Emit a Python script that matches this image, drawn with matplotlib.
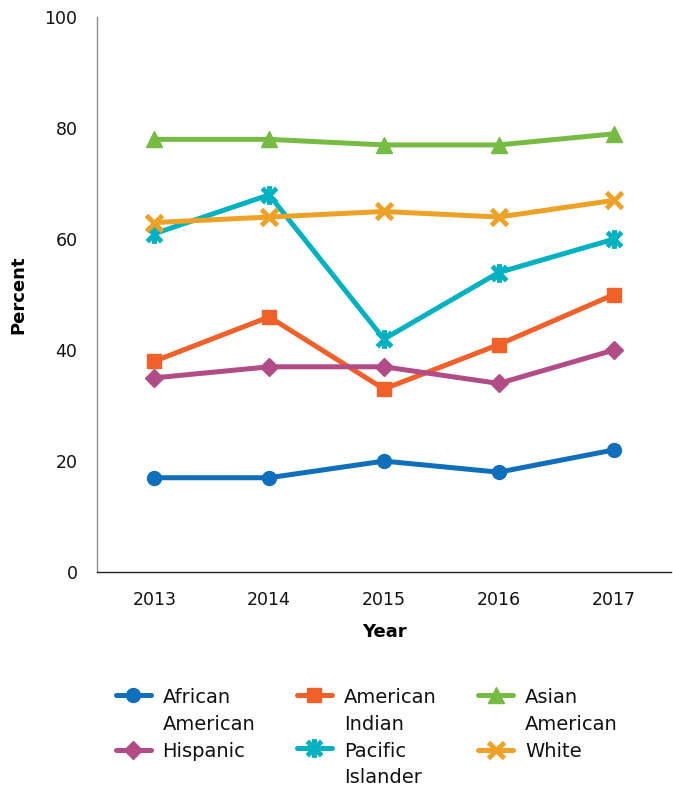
import matplotlib.pyplot as plt
from matplotlib.path import Path
from matplotlib.transforms import Affine2D
from matplotlib.legend_handler import HandlerLine2D

years = ["2013", "2014", "2015", "2016", "2017"]
african_american = [17, 17, 20, 18, 22]
american_indian = [38, 46, 33, 41, 50]
asian_american = [78, 78, 77, 77, 79]
hispanic = [35, 37, 37, 34, 40]
pacific_islander = [61, 68, 42, 54, 60]
white = [63, 64, 65, 64, 67]

plt.rcParams["font.family"] = ["DejaVu Sans"]

# asterisk marker: x with a vertical bar (Excel "star")
star = Path(
    [(-1, -1), (1, 1), (-1, 1), (1, -1), (0, -1.3), (0, 1.3)],
    [Path.MOVETO, Path.LINETO, Path.MOVETO, Path.LINETO, Path.MOVETO, Path.LINETO],
)

series = [
    ("African\nAmerican", african_american, "#0F6FBA", "o", 10, 1),
    ("American\nIndian", american_indian, "#F0612A", "s", 10, 1),
    ("Asian\nAmerican", asian_american, "#76BC43", "^", 11, 1),
    ("Hispanic", hispanic, "#B24C87", "D", 9, 1),
    ("Pacific\nIslander", pacific_islander, "#00B2C1", star, 13.5, 3.6),
    ("White", white, "#EEA127", "x", 11, 3.5),
]


class TopHandler(HandlerLine2D):
    """Put the legend handle level with the first line of a two-line label."""
    def __init__(self, shift, **kw):
        super().__init__(**kw)
        self.shift = shift

    def create_artists(self, legend, orig_handle, xdescent, ydescent,
                       width, height, fontsize, trans):
        arts = super().create_artists(legend, orig_handle, xdescent, ydescent,
                                      width, height, fontsize, trans)
        t = Affine2D().translate(0, self.shift) + trans
        for a in arts:
            a.set_transform(t)
        return arts


fig = plt.figure(figsize=(6.73, 7.89), dpi=100)
ax = fig.add_axes([0.144, 0.275, 0.853, 0.703])

x = range(len(years))
lines = {}
for label, vals, col, mk, ms, mew in series:
    ln, = ax.plot(x, vals, color=col, lw=3.6, marker=mk, ms=ms, mew=mew,
                  mec=col, mfc=col, label=label, solid_capstyle="round")
    lines[label] = ln

ax.set_xlim(-0.5, 4.5)
ax.set_ylim(0, 100)
ax.set_yticks([0, 20, 40, 60, 80, 100])
ax.set_xticks(list(x))
ax.set_xticklabels(years)
ax.tick_params(length=0, labelsize=12.5, colors="#111")
ax.tick_params(axis="x", pad=14)
ax.tick_params(axis="y", pad=14)
ax.spines[["top", "right"]].set_visible(False)
ax.spines["left"].set_color("#8c8c8c")
ax.spines["bottom"].set_color("#222222")
ax.spines["left"].set_linewidth(1)
ax.spines["bottom"].set_linewidth(1)

ax.set_ylabel("Percent", fontsize=13, fontweight="bold", labelpad=12)
ax.set_xlabel("Year", fontsize=13, fontweight="bold", labelpad=10)

# column-major fill so rows read: African, Am. Indian, Asian / Hispanic, Pacific, White
order = ["African\nAmerican", "Hispanic", "American\nIndian",
         "Pacific\nIslander", "Asian\nAmerican", "White"]
handles = [lines[k] for k in order]
hmap = {lines[k]: TopHandler(12) for k in order if "\n" in k}
leg = fig.legend(handles, order, loc="upper left", bbox_to_anchor=(0.172, 0.128),
                 ncol=3, frameon=False, fontsize=14, handlelength=1.8,
                 columnspacing=2.15, handletextpad=0.6, labelspacing=0.42,
                 handler_map=hmap, borderpad=0, borderaxespad=0)
for t in leg.get_texts():
    t.set_linespacing(1.5)
    t.set_color("#111")

fig.savefig("out.png", dpi=100)
